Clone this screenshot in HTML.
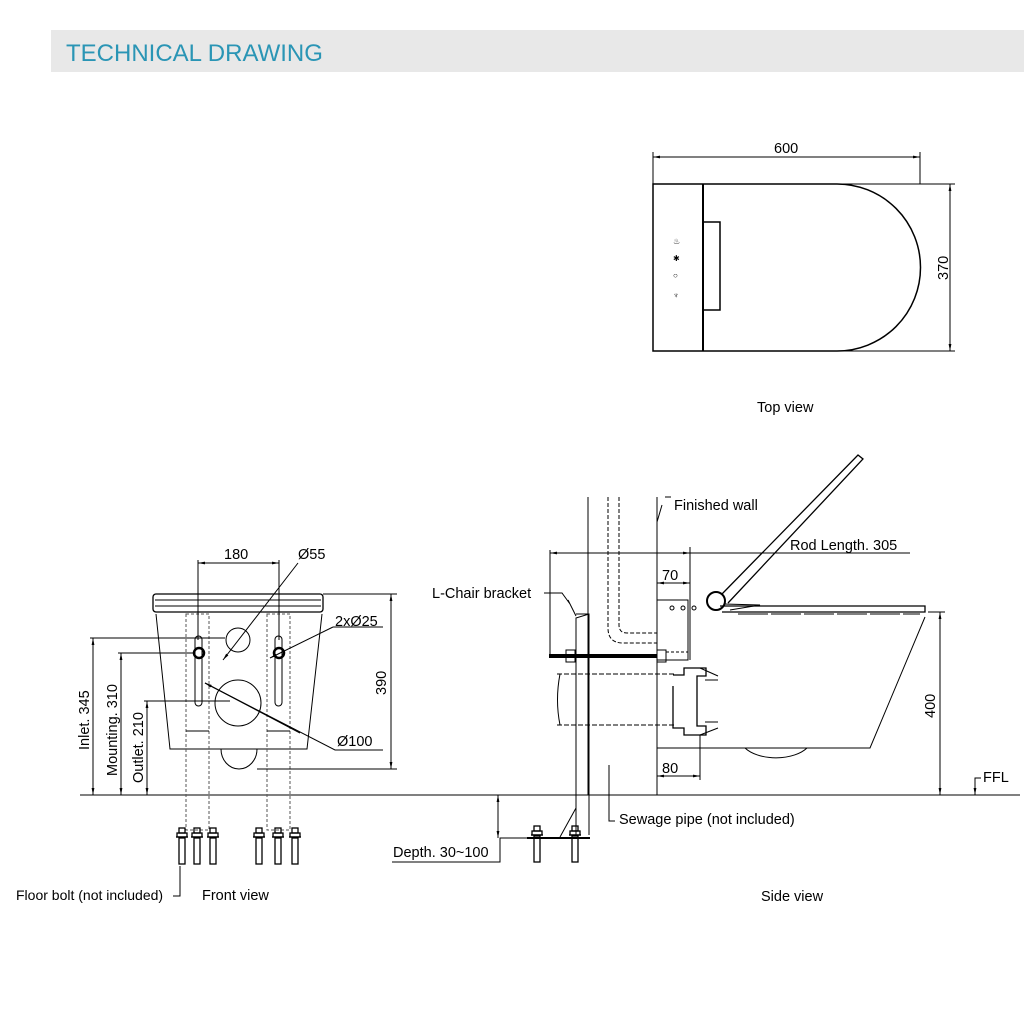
<!DOCTYPE html>
<html><head><style>
body{margin:0;background:#fff;}
svg{display:block;font-family:"Liberation Sans",sans-serif;}
</style></head><body>
<svg width="1024" height="1024" viewBox="0 0 1024 1024" xmlns="http://www.w3.org/2000/svg">
<defs>
<marker id="a" viewBox="0 0 10 10" refX="10" refY="5" markerWidth="7" markerHeight="7" orient="auto-start-reverse"><path d="M0,3 L10,5 L0,7 z" fill="#000"/></marker>
<g id="bolt" fill="none" stroke="#000" stroke-width="1.3"><rect x="-3" y="0" width="6" height="5"/><rect x="-5" y="5" width="10" height="4"/><line x1="-6" y1="9" x2="6" y2="9"/><rect x="-3" y="10" width="6" height="26"/></g>
</defs>
<rect x="51" y="30" width="973" height="42" fill="#e8e8e8"/>
<text x="66" y="61" font-size="24" fill="#2a95b5">TECHNICAL DRAWING</text>
<g fill="none" stroke="#000" stroke-width="1">
<!-- TOP VIEW -->
<line x1="653" y1="184" x2="653" y2="152"/><line x1="920" y1="184" x2="920" y2="152"/>
<line x1="653" y1="157" x2="920" y2="157" marker-start="url(#a)" marker-end="url(#a)"/>
<path d="M653,184 H837 A83.5,83.5 0 0 1 837,351 H653 Z" stroke-width="1.5"/>
<line x1="703" y1="184" x2="703" y2="351" stroke-width="2"/>
<rect x="703" y="222" width="17" height="88" stroke-width="1.5"/>
<line x1="840" y1="184" x2="955" y2="184"/><line x1="840" y1="351" x2="955" y2="351"/>
<line x1="950" y1="184" x2="950" y2="351" marker-start="url(#a)" marker-end="url(#a)"/>
<!-- FRONT VIEW -->
<line x1="80" y1="795" x2="1020" y2="795"/>
<rect x="153" y="594" width="170" height="18" rx="3" stroke-width="1.3"/>
<line x1="155" y1="600" x2="321" y2="600"/><line x1="155" y1="606" x2="321" y2="606"/>
<path d="M156,614 L170,749 H307 L322,614"/>
<path d="M221,749 A18,20 0 0 0 257,749"/>
<g stroke-dasharray="3,2" stroke="#555"><rect x="186" y="614" width="23" height="216"/><rect x="267" y="614" width="23" height="216"/></g>
<line x1="186" y1="731" x2="209" y2="731"/><line x1="267" y1="731" x2="290" y2="731"/>
<rect x="195" y="636" width="7" height="70" rx="3.5"/><rect x="275" y="636" width="7" height="70" rx="3.5"/>
<circle cx="199" cy="653" r="5" stroke-width="2.5"/><circle cx="279" cy="653" r="5" stroke-width="2.5"/>
<circle cx="238" cy="640" r="12"/><circle cx="238" cy="703" r="23"/>
<line x1="198" y1="560" x2="198" y2="640"/><line x1="279" y1="560" x2="279" y2="640"/>
<line x1="198" y1="563" x2="279" y2="563" marker-start="url(#a)" marker-end="url(#a)"/>
<path d="M298,563 L223,660" marker-end="url(#a)"/>
<line x1="383" y1="627" x2="333" y2="627"/>
<line x1="333" y1="627" x2="270" y2="658" marker-end="url(#a)"/>
<path d="M383,750 H335 L205,683"/><line x1="300" y1="733" x2="205" y2="683" marker-end="url(#a)"/>
<line x1="323" y1="594" x2="397" y2="594"/><line x1="257" y1="769" x2="397" y2="769"/>
<line x1="391" y1="594" x2="391" y2="769" marker-start="url(#a)" marker-end="url(#a)"/>
<line x1="90" y1="638" x2="225" y2="638"/><line x1="93" y1="638" x2="93" y2="795" marker-start="url(#a)" marker-end="url(#a)"/>
<line x1="118" y1="653" x2="195" y2="653"/><line x1="121" y1="653" x2="121" y2="795" marker-start="url(#a)" marker-end="url(#a)"/>
<line x1="144" y1="701" x2="230" y2="701"/><line x1="147" y1="701" x2="147" y2="795" marker-start="url(#a)" marker-end="url(#a)"/>
<use href="#bolt" x="182" y="828"/><use href="#bolt" x="197" y="828"/><use href="#bolt" x="213" y="828"/>
<use href="#bolt" x="259" y="828"/><use href="#bolt" x="278" y="828"/><use href="#bolt" x="295" y="828"/>
<path d="M180,866 V896 H173"/>
<!-- SIDE VIEW -->
<line x1="588" y1="497" x2="588" y2="795"/>
<line x1="657" y1="497" x2="657" y2="795"/>
<path d="M665,497 H671 M662,505 L657,522"/>
<path d="M608,497 V628 Q608,643 623,643 H657 M619,497 V625 Q619,633 627,633 H657" stroke-dasharray="4,2"/>
<path d="M576,835 V618 L589,614 M576,614 H589 V835"/>
<path d="M568,600 L576,616 M544,593 H562 L570,604"/>
<line x1="549" y1="656" x2="657" y2="656" stroke-width="4"/>
<rect x="566" y="650" width="9" height="12"/><rect x="657" y="650" width="9" height="12"/>
<rect x="657" y="600" width="31" height="60"/>
<line x1="666" y1="652" x2="688" y2="652" stroke-dasharray="3,2"/>
<circle cx="672" cy="608" r="2"/><circle cx="683" cy="608" r="2"/><circle cx="694" cy="608" r="2"/>
<path d="M557,674 H675 M557,725 H675" stroke-dasharray="5,2"/>
<path d="M560,674 Q555,700 560,725"/>
<path d="M673,686 V728 H684 V735 H706 V726 H697 V676 H706 V668 H684 V675 H673" stroke-width="1.3"/>
<path d="M700,668 L718,676 M700,735 L718,728 M705,680 L718,680 M705,722 L718,722"/>
<path d="M657,748 H870 L925,617"/>
<path d="M745,748 A36,20 0 0 0 807,748"/>
<path d="M720,606 H925 V612 H722" stroke-width="1.3"/>
<line x1="738" y1="614" x2="920" y2="614" stroke-dasharray="30,3"/>
<circle cx="716" cy="601" r="9" stroke-width="2"/>
<path d="M722,594 L858,455 L863,459 L728,603" stroke-width="1.3"/>
<path d="M724,604 L760,605 L730,610"/>
<line x1="550" y1="550" x2="550" y2="656"/><line x1="690" y1="547" x2="690" y2="660"/>
<line x1="550" y1="553" x2="690" y2="553" marker-start="url(#a)" marker-end="url(#a)"/>
<line x1="690" y1="553" x2="910" y2="553"/>
<line x1="657" y1="583" x2="690" y2="583" marker-start="url(#a)" marker-end="url(#a)"/>
<line x1="700" y1="735" x2="700" y2="780"/>
<line x1="657" y1="776" x2="700" y2="776" marker-start="url(#a)" marker-end="url(#a)"/>
<line x1="928" y1="612" x2="945" y2="612"/>
<line x1="940" y1="612" x2="940" y2="795" marker-start="url(#a)" marker-end="url(#a)"/>
<path d="M975,795 V778 H981" marker-start="url(#a)"/>
<line x1="498" y1="795" x2="498" y2="838" marker-start="url(#a)" marker-end="url(#a)"/>
<path d="M392,862 H500 V838 H590"/>
<line x1="527" y1="838" x2="590" y2="838" stroke-width="2"/>
<use href="#bolt" x="537" y="826"/><use href="#bolt" x="575" y="826"/>
<path d="M560,837 L576,808"/>
<path d="M609,765 V821 H615"/>
</g>
<g font-size="14.5" fill="#000">
<text x="774" y="153">600</text>
<text x="757" y="412">Top view</text>
<text x="224" y="559">180</text>
<text x="298" y="559">Ø55</text>
<text x="335" y="626">2xØ25</text>
<text x="337" y="746">Ø100</text>
<text x="202" y="900">Front view</text>
<text x="16" y="900" font-size="14">Floor bolt (not included)</text>
<text x="674" y="510">Finished wall</text>
<text x="790" y="550">Rod Length. 305</text>
<text x="662" y="580">70</text>
<text x="662" y="773">80</text>
<text x="432" y="598">L-Chair bracket</text>
<text x="619" y="824">Sewage pipe (not included)</text>
<text x="393" y="857">Depth. 30~100</text>
<text x="983" y="782">FFL</text>
<text x="761" y="901">Side view</text>
<text transform="translate(948,280) rotate(-90)">370</text>
<text transform="translate(386,695) rotate(-90)">390</text>
<text transform="translate(935,718) rotate(-90)">400</text>
<text transform="translate(89,750) rotate(-90)">Inlet. 345</text>
<text transform="translate(117,776) rotate(-90)">Mounting. 310</text>
<text transform="translate(143,783) rotate(-90)">Outlet. 210</text>
<text x="673" y="244" font-size="8">♨</text>
<text x="673" y="261" font-size="8">✱</text>
<text x="673" y="278" font-size="8">○</text>
<text x="673" y="298" font-size="8">♆</text>
</g>
</svg>
</body></html>
